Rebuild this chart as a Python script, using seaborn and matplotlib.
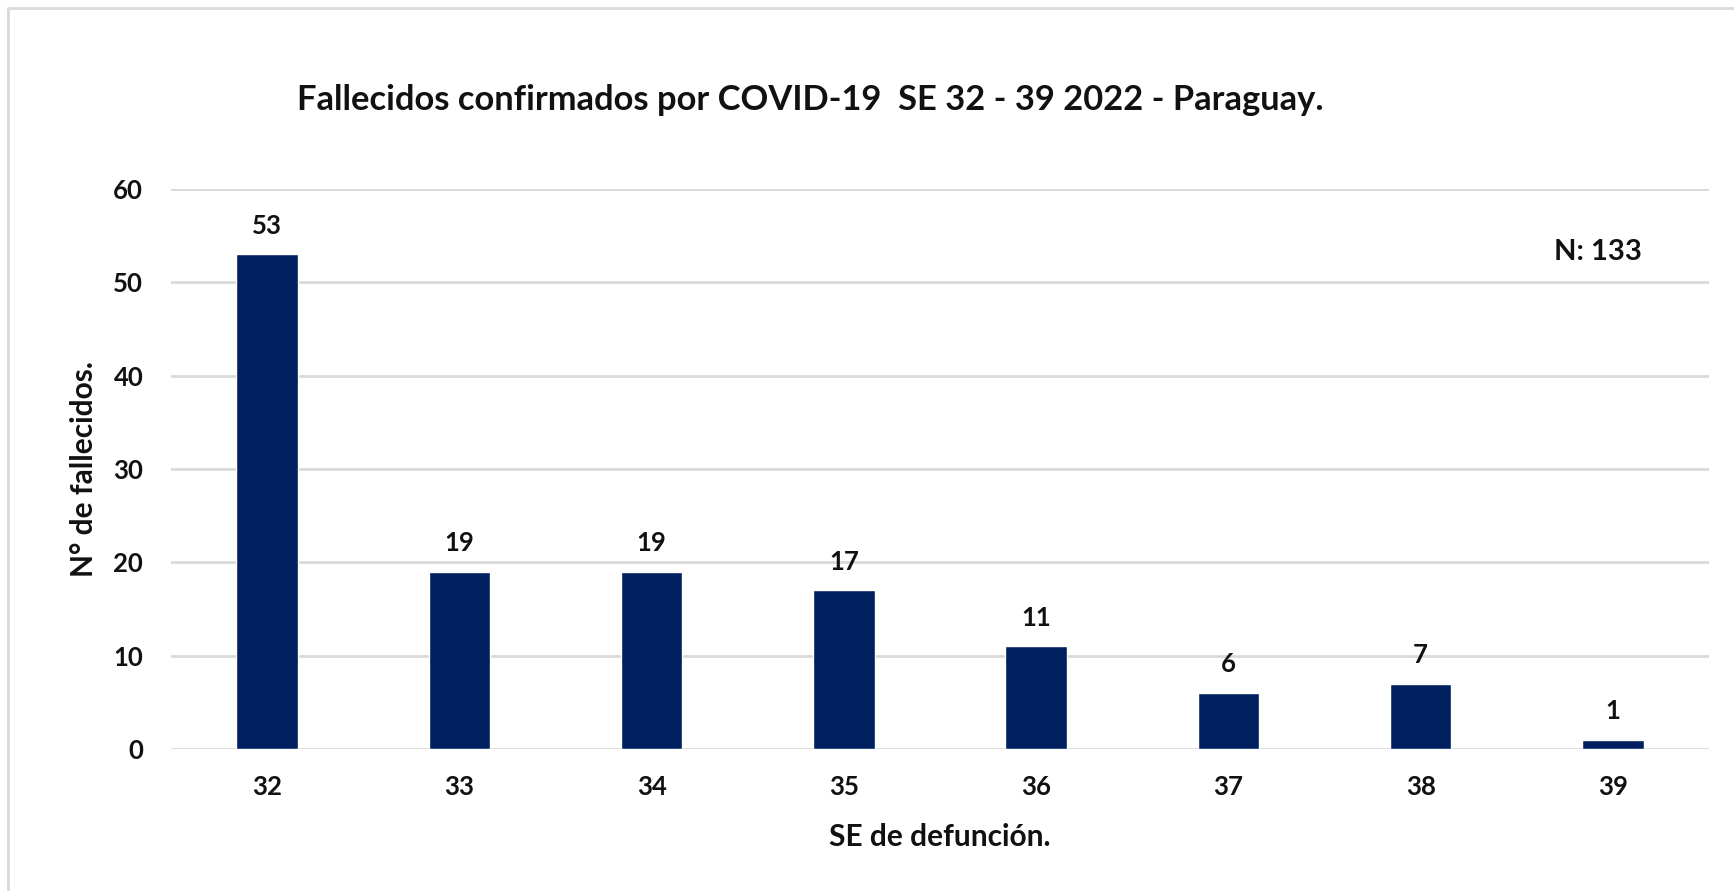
import matplotlib
matplotlib.use("Agg")
import matplotlib.pyplot as plt
from matplotlib.lines import Line2D
import seaborn as sns

# Weekly confirmed COVID-19 deaths, epidemiological weeks 32-39 of 2022
weeks = ["32", "33", "34", "35", "36", "37", "38", "39"]
deaths = [53, 19, 19, 17, 11, 6, 7, 1]
y_ticks = [0, 10, 20, 30, 40, 50, 60]

title = "Fallecidos confirmados por COVID-19  SE 32 - 39 2022 - Paraguay."
x_label = "SE de defunción."
y_label = "N° de fallecidos."
total_note = "N: 133"

sns.set_theme(style="white")
plt.rcParams["font.family"] = ["Lato", "DejaVu Sans"]
plt.rcParams["font.weight"] = "bold"

TEXT = "#111111"
W, H = 1734, 891
fig = plt.figure(figsize=(W / 100, H / 100), dpi=100)
fig.patch.set_facecolor("white")

# Outer chart frame (top and left edges visible)
fig.add_artist(Line2D([8 / W, 8 / W], [0, 1 - 8 / H], transform=fig.transFigure,
                      color="#D9D9D9", lw=2))
fig.add_artist(Line2D([8 / W, 1], [1 - 8 / H, 1 - 8 / H], transform=fig.transFigure,
                      color="#D9D9D9", lw=2))

ax = fig.add_axes([171 / W, 1 - 749 / H, (1709 - 171) / W, (749 - 189) / H])

sns.barplot(x=weeks, y=deaths, color="#002060", saturation=1, width=0.32, ax=ax,
            zorder=3)

ax.set_ylim(0, 60)
ax.set_xlim(-0.5, len(weeks) - 0.5)
ax.set_yticks(y_ticks)
ax.yaxis.grid(True, color="#D9D9D9", lw=2)
ax.set_axisbelow(True)
for s in ax.spines.values():
    s.set_visible(False)
ax.tick_params(axis="y", length=0, pad=20, labelsize=18.5, labelcolor=TEXT)
ax.tick_params(axis="x", length=0, pad=19, labelsize=18.5, labelcolor=TEXT)
for lbl in ax.get_xticklabels() + ax.get_yticklabels():
    lbl.set_fontweight("bold")

ax.bar_label(ax.containers[0], labels=[str(v) for v in deaths], padding=12,
             fontsize=18.5, fontweight="bold", color=TEXT)

ax.set_xlabel(x_label, fontsize=21.5, fontweight="bold", labelpad=17, color=TEXT)
ax.set_ylabel(y_label, fontsize=21.5, fontweight="bold", labelpad=11, color=TEXT)

ax.text(6.92, 53.2, total_note, ha="center", va="center", fontsize=21,
        fontweight="bold", color=TEXT)

fig.text(810 / W, 1 - 100 / H, title, ha="center", va="center", fontsize=24.8,
         fontweight="bold", color=TEXT)

fig.savefig("out.png", dpi=100, facecolor="white")
